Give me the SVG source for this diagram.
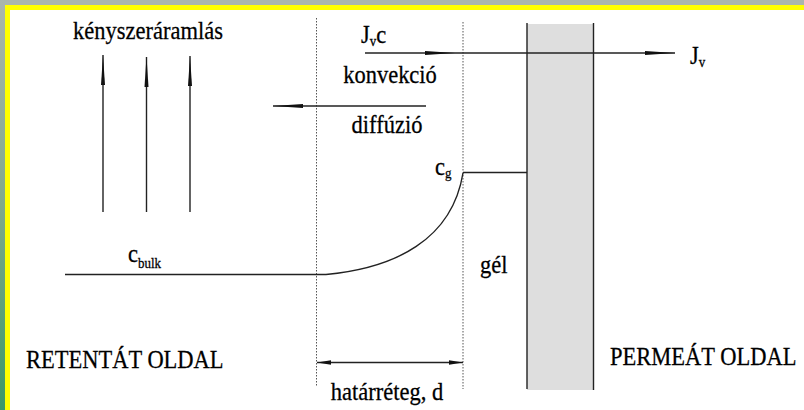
<svg xmlns="http://www.w3.org/2000/svg" width="804" height="410" viewBox="0 0 804 410">
  <defs>
    <linearGradient id="leftband" x1="0" y1="0" x2="0" y2="1">
      <stop offset="0" stop-color="#aab6ac"/>
      <stop offset="0.5" stop-color="#7fa98c"/>
      <stop offset="1" stop-color="#3a9868"/>
    </linearGradient>
    <marker id="ah" viewBox="0 0 14 6" refX="14" refY="3" markerWidth="14" markerHeight="6" markerUnits="userSpaceOnUse" orient="auto-start-reverse">
      <path d="M0,0.8 L14,3 L0,5.2 Z" fill="#111"/>
    </marker>
    <marker id="ahlong" viewBox="0 0 30 6" refX="30" refY="3" markerWidth="30" markerHeight="6" markerUnits="userSpaceOnUse" orient="auto">
      <path d="M0,1 L30,3 L0,5 Z" fill="#111"/>
    </marker>
    <style>
      .t { font-size: 22.5px; fill: #000; stroke: #000; stroke-width: 0.25; }
      .sub { font-size: 13px; }
      .ln { stroke: #222; stroke-width: 1.4; fill: none; }
      .dot { stroke: #555; stroke-width: 1; stroke-dasharray: 1.5 1.5; fill: none; }
    </style>
  </defs>

  <!-- frame -->
  <rect x="0" y="0" width="804" height="410" fill="#ffffff"/>
  <rect x="0" y="0" width="804" height="5" fill="#aab6ac"/>
  <rect x="0" y="0" width="5" height="410" fill="url(#leftband)"/>
  <rect x="5" y="5" width="799" height="5" fill="#ffff00"/>
  <rect x="5" y="5" width="5" height="405" fill="#ffff00"/>

  <!-- membrane -->
  <g id="membrane">
    <rect x="527" y="24" width="66" height="366" fill="#dedede"/>
    <line class="ln" x1="527" y1="23" x2="527" y2="389"/>
    <line class="ln" x1="593.5" y1="23" x2="593.5" y2="390"/>
  </g>

  <!-- boundary layer dotted lines -->
  <g id="boundary">
    <line class="dot" x1="316.5" y1="18" x2="316.5" y2="386"/>
    <line class="dot" x1="463" y1="22" x2="463" y2="389"/>
  </g>

  <!-- connectors / arrows -->
  <g id="connectors">
    <line class="ln" x1="103" y1="212" x2="103" y2="55" marker-end="url(#ahlong)"/>
    <line class="ln" x1="146.5" y1="212" x2="146.5" y2="57" marker-end="url(#ahlong)"/>
    <line class="ln" x1="190" y1="212" x2="190" y2="56" marker-end="url(#ahlong)"/>
    <line class="ln" x1="365" y1="53" x2="455" y2="53" marker-end="url(#ahlong)"/>
    <line class="ln" x1="455" y1="53" x2="675" y2="53" marker-end="url(#ahlong)"/>
    <line class="ln" x1="426" y1="106" x2="273" y2="106" marker-end="url(#ahlong)"/>
    <line class="ln" x1="317" y1="362.5" x2="463" y2="362.5" marker-start="url(#ah)" marker-end="url(#ah)"/>
  </g>

  <!-- concentration profile -->
  <g id="profile">
    <path class="ln" d="M65,274.5 L326,274.5 C395,268 452,240 463,173"/>
    <line class="ln" x1="463" y1="172.5" x2="527" y2="172.5"/>
  </g>

  <!-- labels -->
  <g id="labels" font-family="'Liberation Serif', 'DejaVu Serif', serif">
    <text class="t" transform="translate(148 39) scale(1 1.15)" text-anchor="middle">kényszeráramlás</text>
    <text class="t" transform="translate(361 43) scale(1 1.15)">J<tspan class="sub" dy="3">v</tspan><tspan dy="-3">c</tspan></text>
    <text class="t" transform="translate(390 83) scale(1 1.15)" text-anchor="middle">konvekció</text>
    <text class="t" transform="translate(387 133) scale(1 1.15)" text-anchor="middle">diffúzió</text>
    <text class="t" transform="translate(690 64) scale(1 1.15)">J<tspan class="sub" dy="3">v</tspan></text>
    <text class="t" transform="translate(435 175) scale(1 1.15)">c<tspan class="sub" dy="3">g</tspan></text>
    <text class="t" transform="translate(128 262) scale(1 1.15)">c<tspan class="sub" dy="5">bulk</tspan></text>
    <text class="t" transform="translate(480 273) scale(1 1.15)">gél</text>
    <text class="t" transform="translate(26 368) scale(1 1.15)">RETENTÁT OLDAL</text>
    <text class="t" transform="translate(610 365) scale(1 1.15)">PERMEÁT OLDAL</text>
    <text class="t" transform="translate(387 400) scale(1 1.15)" text-anchor="middle">határréteg, d</text>
  </g>
</svg>
